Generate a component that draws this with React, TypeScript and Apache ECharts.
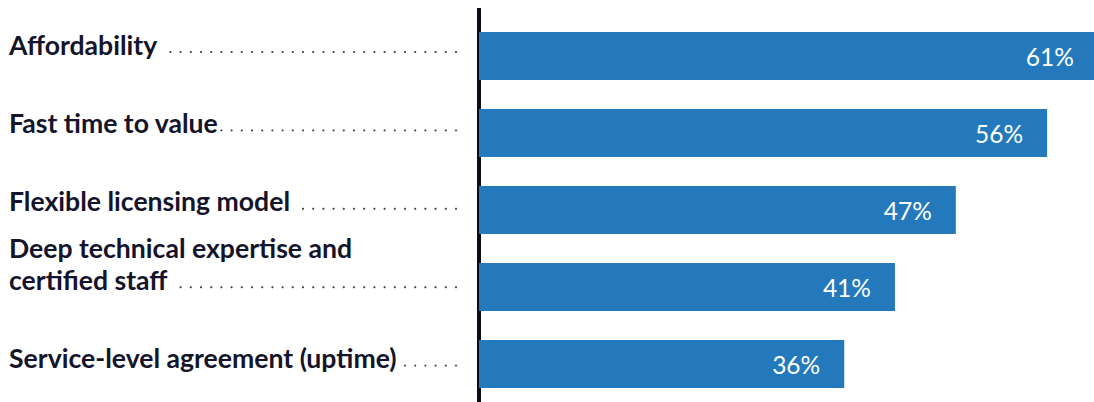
import React, { useEffect, useRef } from "react";
import * as echarts from "echarts";

const categories: string[] = [
  "Affordability",
  "Fast time to value",
  "Flexible licensing model",
  "Deep technical expertise and\ncertified staff",
  "Service-level agreement (uptime)",
];
const values: number[] = [61, 56, 47, 41, 36];

const LABEL_FONT = "bold 26.6px Lato";
const TEXT_COLOR = "#14142b";
const BAR_COLOR = "#2479bd";
const AXIS_COLOR = "#0b0b1a";

let measureCtx: CanvasRenderingContext2D | null = null;
function measure(text: string, font: string): number {
  if (!measureCtx) measureCtx = document.createElement("canvas").getContext("2d");
  if (!measureCtx) return text.length * 12;
  measureCtx.font = font;
  return measureCtx.measureText(text).width;
}

export default function App() {
  const ref = useRef<HTMLDivElement>(null);
  useEffect(() => {
    if (!ref.current) return;
    const chart = echarts.init(ref.current, null, { renderer: "svg" });
    chart.setOption({
      animation: false,
      backgroundColor: "#ffffff",
      grid: [
        { left: 479, top: 17.5, width: 629, height: 385, containLabel: false, outerBoundsMode: "none" },
        { left: 0, top: 13.8, width: 470, height: 392, containLabel: false, outerBoundsMode: "none" },
      ],
      xAxis: [
        { type: "value", gridIndex: 0, min: 0, max: 62, show: false },
        { type: "value", gridIndex: 1, min: 0, max: 1, show: false },
      ],
      yAxis: [
        {
          type: "category",
          gridIndex: 0,
          inverse: true,
          data: categories,
          axisLine: { show: true, lineStyle: { color: AXIS_COLOR, width: 4 } },
          axisTick: { show: false },
          axisLabel: { show: false },
          splitLine: { show: false },
        },
        {
          type: "category",
          gridIndex: 1,
          inverse: true,
          data: categories,
          show: false,
        },
      ],
      graphic: [
        {
          type: "rect",
          shape: { x: 477, y: 8, width: 4, height: 12 },
          style: { fill: AXIS_COLOR },
          silent: true,
        },
      ],
      series: [
        {
          type: "bar",
          xAxisIndex: 0,
          yAxisIndex: 0,
          data: values,
          barWidth: 48,
          silent: true,
          itemStyle: { color: BAR_COLOR },
          label: {
            show: true,
            position: "insideRight",
            distance: 24,
            formatter: "{c}%",
            color: "#ffffff",
            fontFamily: "Lato",
            fontSize: 24.5,
            fontWeight: "normal",
          },
        },
        {
          type: "custom",
          xAxisIndex: 1,
          yAxisIndex: 1,
          silent: true,
          clip: false,
          data: categories.map((_, i) => [0, i]),
          encode: { x: 0, y: 1 },
          renderItem: (params: any, api: any) => {
            const i = params.dataIndex;
            const pt = api.coord([0, i]);
            const y = pt[1];
            const text = categories[i];
            const lines = text.split("\n");
            const w = measure(lines[lines.length - 1], LABEL_FONT);
            const children: any[] = [
              {
                type: "text",
                x: 9,
                y: y + 7.5,
                style: {
                  text,
                  font: LABEL_FONT,
                  fill: TEXT_COLOR,
                  align: "left",
                  verticalAlign: "bottom",
                  lineHeight: 32,
                },
              },
            ];
            for (let x = 456; x >= 9 + w + 3; x -= 10.2) {
              children.push({
                type: "circle",
                shape: { cx: x, cy: y - 1, r: 1.1 },
                style: { fill: "#4a4a55" },
              });
            }
            return { type: "group", children };
          },
        },
      ],
    });
    return () => chart.dispose();
  }, []);
  return (
    <div
      ref={ref}
      style={{ position: "fixed", left: 0, top: 0, width: 1094, height: 402, background: "#fff" }}
    />
  );
}
